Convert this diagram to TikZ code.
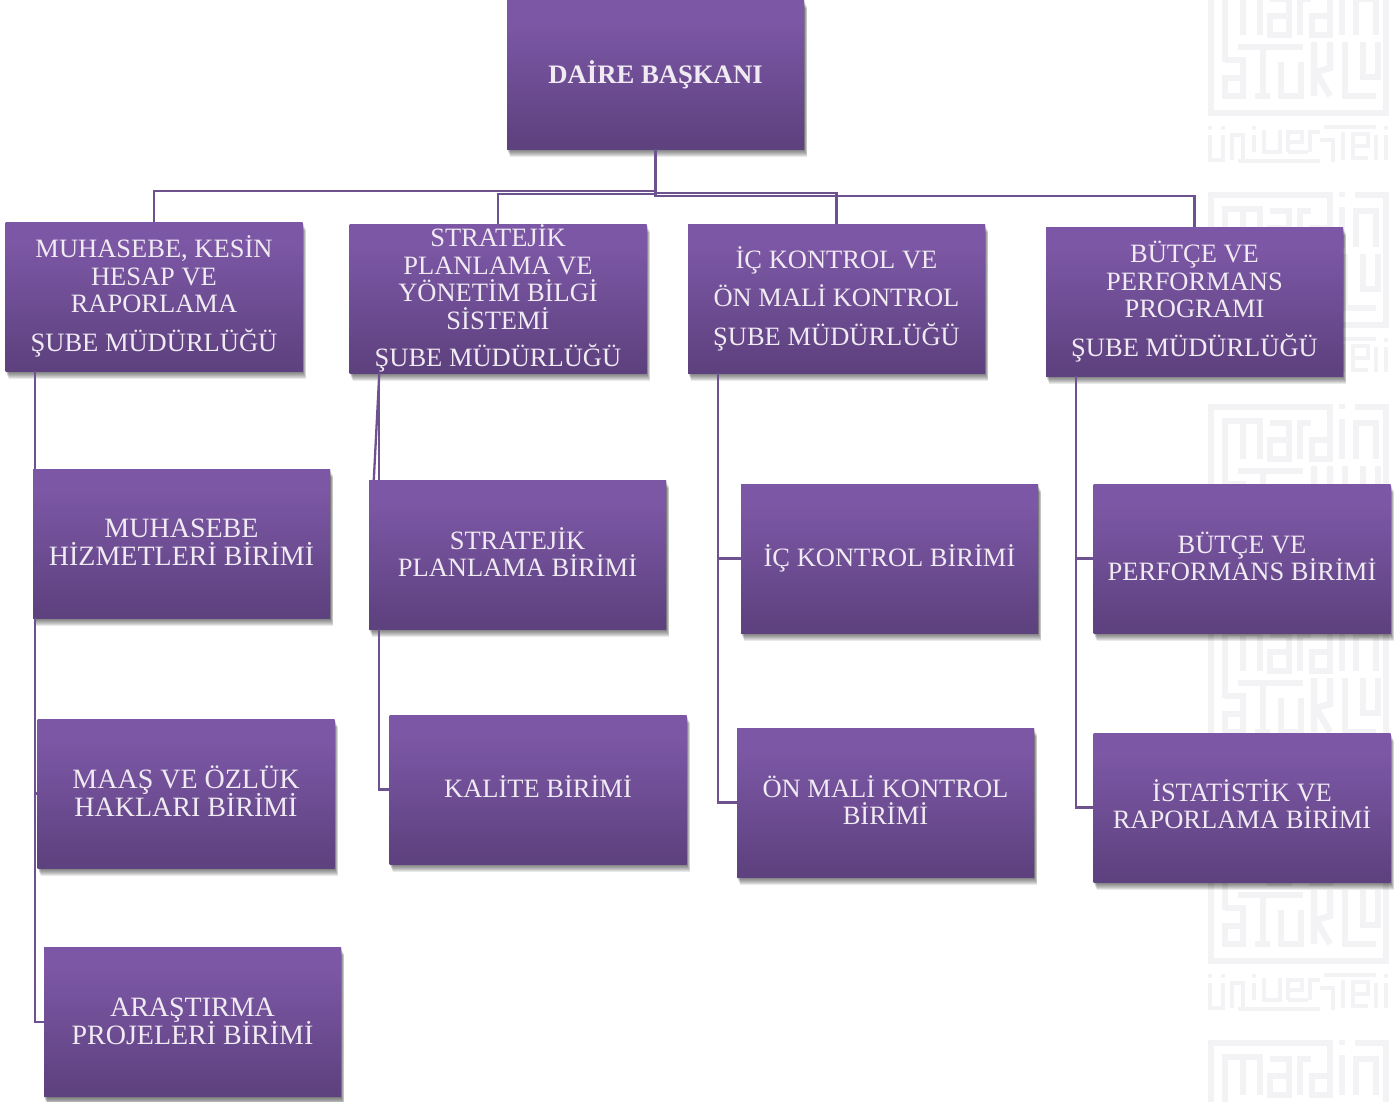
\documentclass[tikz,border=0pt]{standalone}
\usepackage{fontspec}
\setmainfont{Liberation Serif}
\usetikzlibrary{backgrounds}
\definecolor{boxtop}{HTML}{7C57A5}
\definecolor{boxmid}{HTML}{6F4E95}
\definecolor{boxbot}{HTML}{5E417F}
\definecolor{linkc}{HTML}{6E5290}
\definecolor{txtc}{HTML}{F0EAF2}
\definecolor{wmc}{HTML}{F3F3F5}
\pgfdeclareverticalshading{boxshade}{100bp}{color(0bp)=(boxbot); color(27bp)=(boxbot); color(50bp)=(boxmid); color(68bp)=(boxtop); color(100bp)=(boxtop)}
\newcommand{\orgfont}{\fontsize{26.5}{27.4}\selectfont\setlength{\lineskiplimit}{-50pt}}
\newcommand{\orgbigfont}{\fontsize{28}{28}\selectfont\setlength{\lineskiplimit}{-50pt}}
\newcommand{\liftby}[1]{\rule[-#1pt]{0pt}{0pt}}
\tikzset{
  orgbox/.style={rectangle, inner sep=0pt, shading=boxshade, minimum width=297pt, minimum height=149pt,
    text=txtc, align=center, font=\orgfont},
  bigtext/.style={font=\orgbigfont},
  rootbox/.style={font=\fontsize{26.7}{28}\selectfont\bfseries},
  link/.style={draw=linkc, line width=2.3pt},
  softshadow/.style={fill=black, fill opacity=.085},
  wmframe/.style={draw=wmc, line width=6.5pt},
  wmsmall/.style={draw=wmc, line width=4.5pt}
}
\newcommand{\wmlogo}[1]{%
  \begin{scope}[shift={(1208,#1)}]
    \draw[wmframe] (122,0) -- (122,55) -- (104,55) -- (104,36) -- (122,36);
    \draw[wmframe] (122,3) -- (3,3) -- (3,133) -- (178,133) -- (178,3) -- (147,3);
    \draw[wmframe] (134,15) -- (134,55) (134,0) -- (134,5);
    \draw[wmframe] (17,82) -- (17,17) -- (52,17) -- (52,55) (35,17) -- (35,55);
    \draw[wmframe] (62,19) -- (81,19) -- (81,55) -- (62,55) -- (62,36) -- (81,36);
    \draw[wmframe] (92,55) -- (92,19) -- (103,19);
    \draw[wmframe] (148,55) -- (148,19) -- (168,19) -- (168,55);
    \draw[wmframe] (30,67) -- (95,67) (17,80) -- (35,80) -- (35,116) -- (17,116) -- (17,98) -- (35,98);
    \draw[wmframe] (55,67) -- (55,116) (47,116) -- (62,116);
    \draw[wmframe] (73,82) -- (73,116) -- (93,116) -- (93,82);
    \draw[wmframe] (106,62) -- (106,116) (122,62) -- (122,88) -- (108,92) (108,92) -- (122,116);
    \draw[wmframe] (137,62) -- (137,116) -- (168,116) (155,62) -- (155,97) -- (170,97) -- (170,62);
    \draw[wmsmall] (2,155) -- (2,180) -- (15,180) -- (15,155) (2,146) -- (2,150) (15,146) -- (15,150);
    \draw[wmsmall] (24,180) -- (24,155) -- (35,155) -- (35,180);
    \draw[wmsmall] (46,155) -- (46,172) (46,146) -- (46,150);
    \draw[wmsmall] (30,181) -- (112,181) (56,150) -- (56,172) -- (72,172) -- (72,150);
    \draw[wmsmall] (80,172) -- (80,152) -- (94,152) -- (94,162) -- (80,162);
    \draw[wmsmall] (80,172) -- (100,172) (102,172) -- (102,152) -- (112,152);
    \draw[wmsmall] (116,147) -- (168,147) (112,160) -- (125,160) -- (125,182) (135,152) -- (135,180);
    \draw[wmsmall] (145,180) -- (145,154) -- (160,154) -- (160,166) -- (145,166) (145,178) -- (160,178);
    \draw[wmsmall] (168,180) -- (168,155) (178,155) -- (178,180) (178,146) -- (178,150);
  \end{scope}}
\begin{document}
\begin{tikzpicture}[x=1pt,y=-1pt]
\useasboundingbox (0,0) rectangle (1399,1101);

\node[orgbox, rootbox, name=root] at (655.5,74.5) {DAİRE BAŞKANI};
\node[orgbox, name=m1] at (154,296.5) {MUHASEBE, KESİN\\HESAP VE\\RAPORLAMA\\[11.5pt]ŞUBE MÜDÜRLÜĞÜ};
\node[orgbox, name=m2] at (498,298.5) {STRATEJİK\\PLANLAMA  VE\\YÖNETİM BİLGİ\\SİSTEMİ\\[10pt]ŞUBE MÜDÜRLÜĞÜ};
\node[orgbox, name=m3] at (836.5,298.5) {İÇ KONTROL VE\\[11pt]ÖN MALİ KONTROL\\[11pt]ŞUBE MÜDÜRLÜĞÜ};
\node[orgbox, name=m4] at (1194.5,301.5) {BÜTÇE VE\\PERFORMANS\\PROGRAMI\\[11pt]ŞUBE MÜDÜRLÜĞÜ};
\node[orgbox, bigtext, name=c1] at (181.5,543.5) {MUHASEBE\\HİZMETLERİ BİRİMİ\liftby{2}};
\node[orgbox, bigtext, name=c2] at (186,793.5) {MAAŞ VE ÖZLÜK\\HAKLARI BİRİMİ\liftby{4}};
\node[orgbox, bigtext, name=c3] at (192.5,1022) {ARAŞTIRMA\\PROJELERİ BİRİMİ\liftby{2}};
\node[orgbox, name=c4] at (517.5,554.5) {STRATEJİK\\PLANLAMA BİRİMİ\liftby{5}};
\node[orgbox, name=c5] at (538,789.5) {KALİTE BİRİMİ\liftby{6}};
\node[orgbox, name=c6] at (889.5,558.5) {İÇ KONTROL BİRİMİ};
\node[orgbox, name=c7] at (885.5,802.5) {ÖN MALİ KONTROL\\BİRİMİ\liftby{5}};
\node[orgbox, name=c8] at (1242,558.5) {BÜTÇE VE\\PERFORMANS BİRİMİ\liftby{4}};
\node[orgbox, name=c9] at (1242,807.5) {İSTATİSTİK VE\\RAPORLAMA BİRİMİ\liftby{7}};

\begin{pgfonlayer}{background}
  \begin{scope}
    \clip (0,0) rectangle (1399,1101);
    \wmlogo{-20}\wmlogo{192}\wmlogo{404}\wmlogo{616}\wmlogo{828}\wmlogo{1040}
    \foreach \boxname in {root,m1,m2,m3,m4,c1,c2,c3,c4,c5,c6,c7,c8,c9}
      \foreach \sdrop in {1,2,...,8}
        \fill[softshadow] ([xshift=\sdrop*0.4pt,yshift=-\sdrop*1pt]\boxname.south west) rectangle ([xshift=\sdrop*0.4pt,yshift=-\sdrop*1pt]\boxname.north east);
  \end{scope}
\end{pgfonlayer}

\coordinate (m1b) at ([xshift=30pt]m1.south west);
\coordinate (m2b) at ([xshift=30pt]m2.south west);
\coordinate (m3b) at ([xshift=30pt]m3.south west);
\coordinate (m4b) at ([xshift=30pt]m4.south west);

\draw[link] (root.south) -- ++(0,42) -| (m1.north);
\draw[link] (root.south) -- ++(0,45) -| (m2.north);
\draw[link] (root.south) -- ++(0,44) -| (m3.north);
\draw[link] (root.south) -- ++(0,47) -| (m4.north);
\draw[link] (m1b) -- (m1b |- c1.north);
\draw[link] (m1b |- c1.south) |- (c2.west);
\draw[link] (m1b |- c1.south) |- (c3.west);
\draw[link] (m2b) -- ([xshift=5pt]c4.north west);
\draw[link] (m2b) -- (m2b |- c4.north);
\draw[link] (m2b |- c4.south) |- (c5.west);
\draw[link] (m3b) |- (c6.west);
\draw[link] (m3b) |- (c7.west);
\draw[link] (m4b) |- (c8.west);
\draw[link] (m4b) |- (c9.west);
\end{tikzpicture}
\end{document}
